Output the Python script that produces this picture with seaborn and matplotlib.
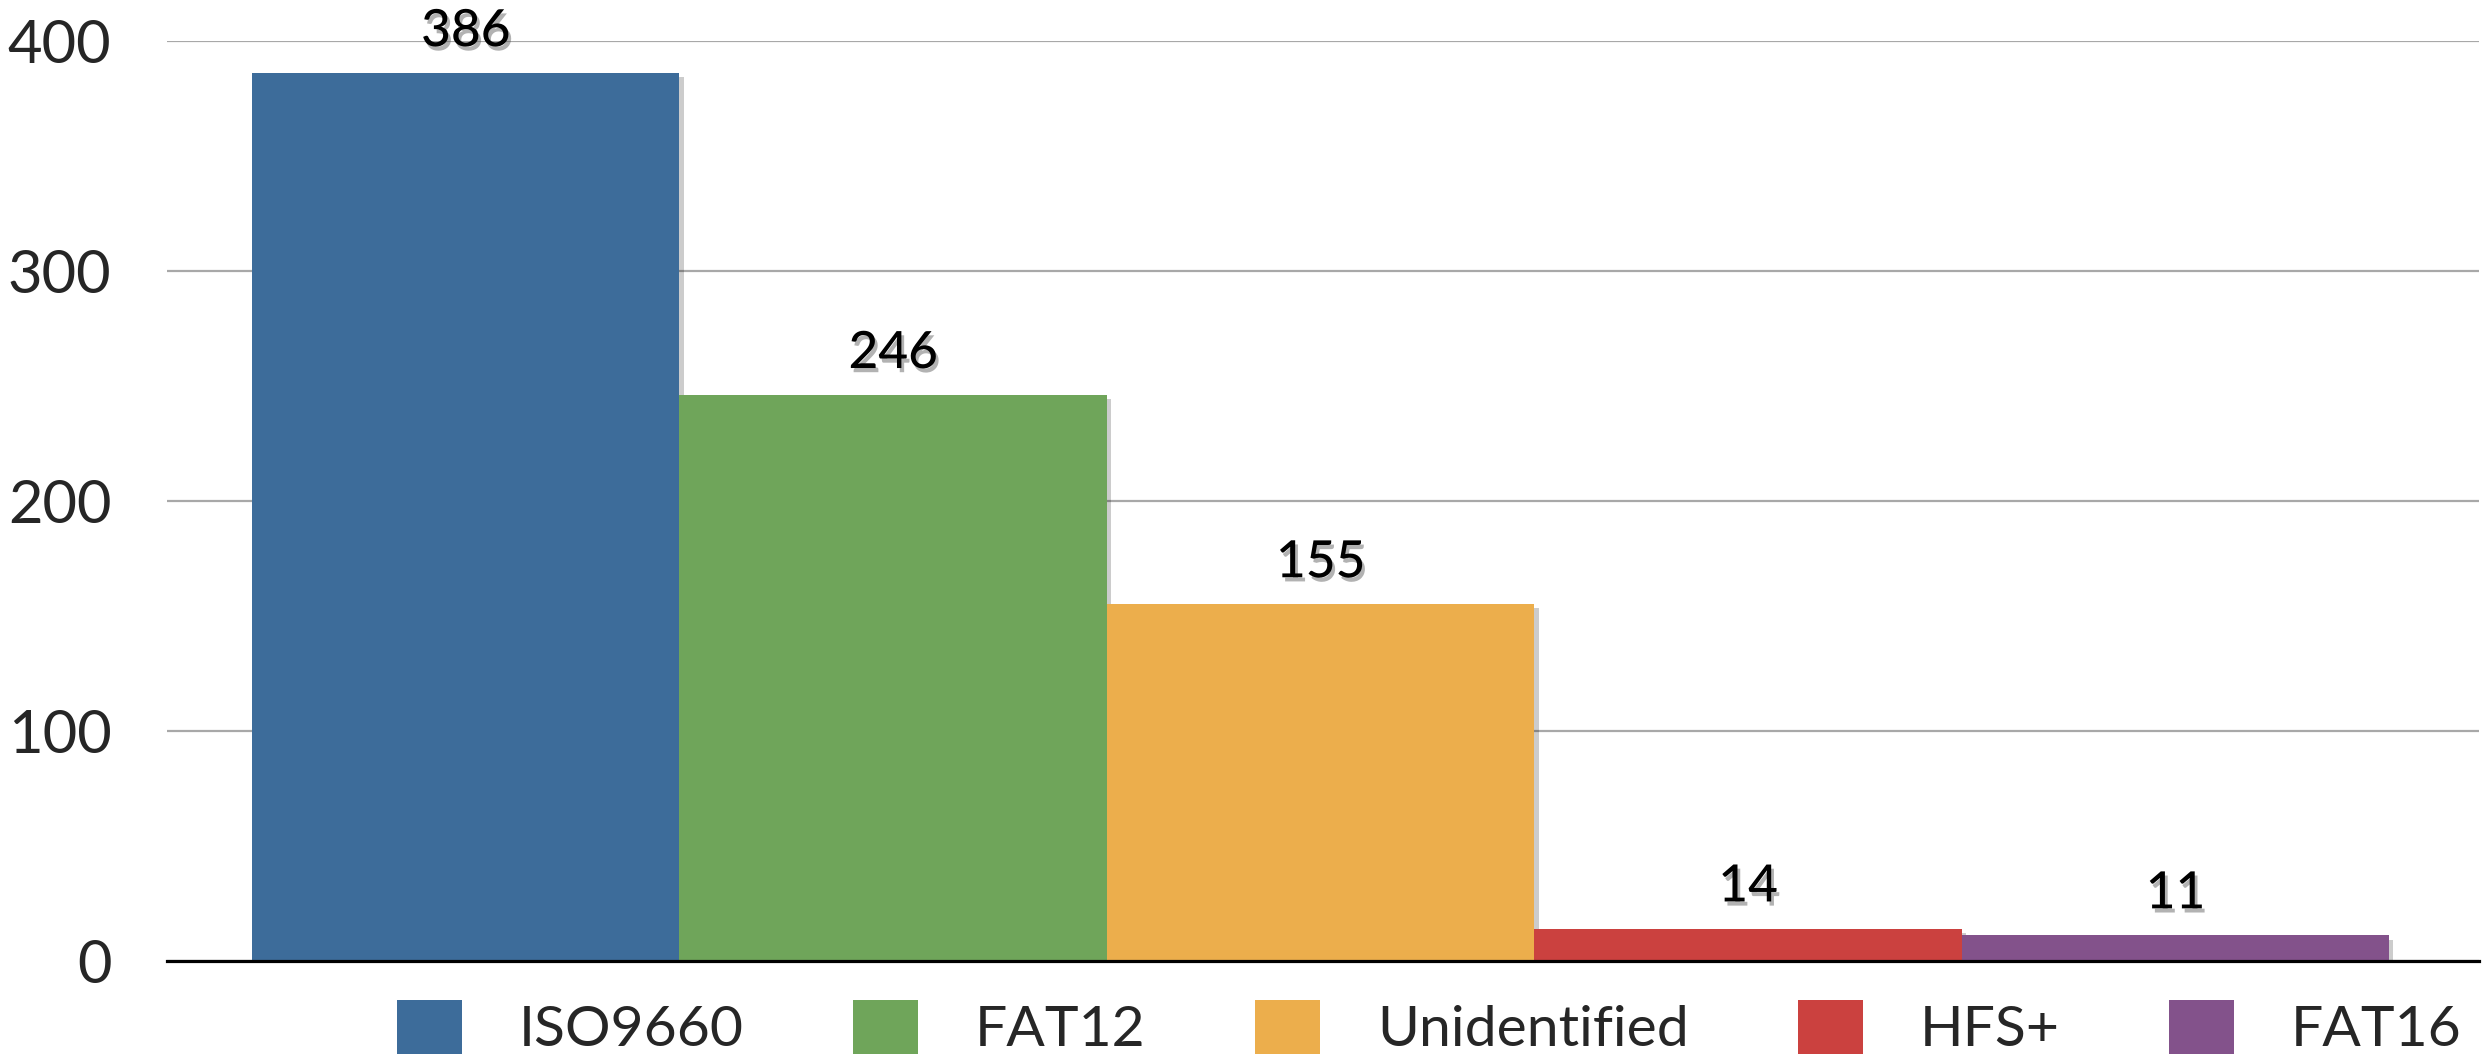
import matplotlib
matplotlib.use("Agg")
import matplotlib.pyplot as plt
import matplotlib.patheffects as pe
from matplotlib.patches import Patch
import seaborn as sns
import pandas as pd

categories = ["ISO9660", "FAT12", "Unidentified", "HFS+", "FAT16"]
counts = [386, 246, 155, 14, 11]
colors = ["#3D6C9A", "#6FA55A", "#ECAE4C", "#CB413F", "#83528B"]
yticks = [0, 100, 200, 300, 400]

df = pd.DataFrame({"category": categories, "count": counts})

sns.set_theme(style="white")
plt.rcParams["font.family"] = ["Lato", "DejaVu Sans"]

W, H = 2492, 1057
fig = plt.figure(figsize=(W / 100, H / 100), dpi=100)
ax = fig.add_axes([167 / W, 1 - 960.7 / H, (2479 - 167) / W, (960.7 - 41) / H])

sns.barplot(data=df, x="category", y="count", hue="category", order=categories,
            hue_order=categories, palette=colors, width=1.0, dodge=False,
            legend=False, saturation=1.0, ax=ax, linewidth=0)

for bar in ax.patches:
    bar.set_path_effects([pe.SimplePatchShadow(offset=(3, -3), alpha=0.2, shadow_rgbFace="#000000"),
                          pe.Normal()])
    bar.set_zorder(3)

for cont in ax.containers:
    labels = ax.bar_label(cont, fmt="%d", padding=13, fontsize=37, color="black",
                          fontweight="medium")
    for t in labels:
        t.set_clip_on(False)
        t.set_path_effects([pe.SimplePatchShadow(offset=(2, -3), alpha=0.45,
                                                 shadow_rgbFace="#555555"),
                            pe.Normal()])

ax.set_xlim(-0.699, 4.71)
ax.set_ylim(0, 400)
ax.set_yticks(yticks)
ax.set_yticklabels([str(v) for v in yticks], fontsize=43)
ax.tick_params(axis="y", length=0, pad=40)
ax.set_xticks([])
ax.set_xlabel("")
ax.set_ylabel("")
ax.yaxis.grid(True, color="#A8A8A8", linewidth=1.6)
ax.set_axisbelow(True)
for s in ["left", "top", "right"]:
    ax.spines[s].set_visible(False)
ax.spines["bottom"].set_color("black")
ax.spines["bottom"].set_linewidth(2.3)
ax.spines["bottom"].set_zorder(5)

handles = [Patch(facecolor=c, edgecolor="none", label=l) for c, l in zip(colors, categories)]
fig.legend(handles=handles, loc="center left", bbox_to_anchor=(397 / W, 1 - 1028 / H),
           ncol=5, frameon=False, fontsize=41, handlelength=1.14, handleheight=1.09,
           handletextpad=1.0, columnspacing=1.92, borderpad=0, borderaxespad=0)

fig.savefig("out.png", dpi=100, facecolor="white")
